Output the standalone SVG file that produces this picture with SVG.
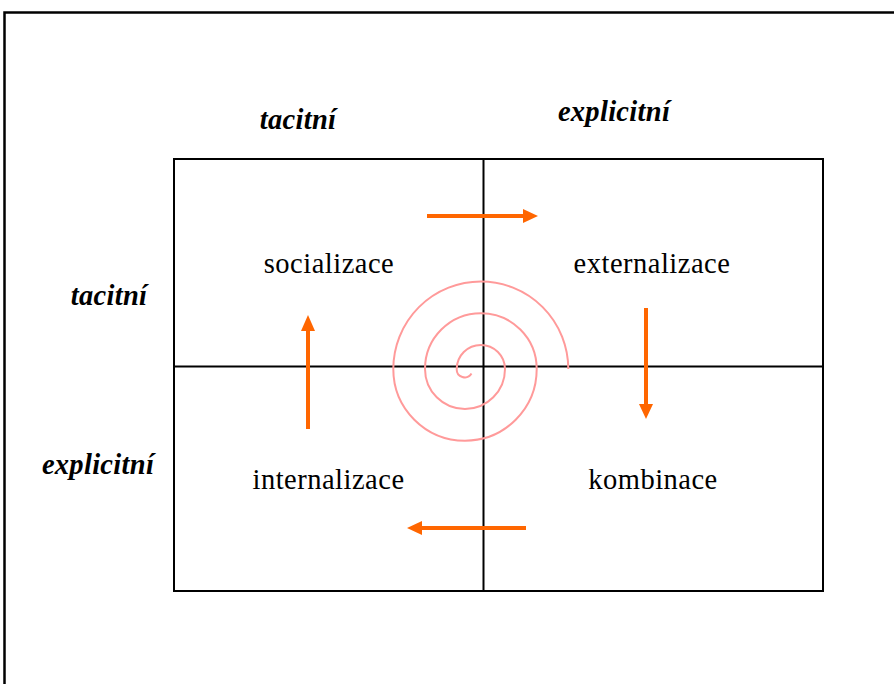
<svg xmlns="http://www.w3.org/2000/svg" width="894" height="684" viewBox="0 0 894 684">
<defs>
<style>
.lbl{font-family:"Liberation Serif","Times New Roman",serif;font-size:28.5px;letter-spacing:0.5px;text-anchor:middle;fill:#000}
.hdr{font-family:"Liberation Serif","Times New Roman",serif;font-size:28.5px;letter-spacing:0.3px;font-weight:bold;font-style:italic;text-anchor:middle;fill:#000}
.grid{fill:none;stroke:#000;stroke-width:2}
.arr{stroke:#ff6600;stroke-width:4;fill:none}
.head{fill:#ff6600}
</style>
</defs>
<rect width="894" height="684" fill="#fff"/>
<rect x="4.5" y="12.5" width="900" height="700" fill="none" stroke="#000" stroke-width="2.5"/>
<g id="grid">
<rect class="grid" x="174" y="159" width="649" height="432"/>
<line class="grid" x1="483.5" y1="159" x2="483.5" y2="591"/>
<line class="grid" x1="174" y1="366.5" x2="823" y2="366.5"/>
</g>
<g id="spiral">
<path d="M471.5,373.5 A8 8 0 0 1 456.7,369 A24.15 24.15 0 0 1 505,369 A40 40 0 0 1 425,369 A55.85 55.85 0 0 1 536.7,369 A71.7 71.7 0 0 1 393.3,369 A87.5 87.5 0 0 1 568.3,369" fill="none" stroke="#ff9a9a" stroke-width="2"/>
</g>
<g id="headers">
<text class="hdr" x="298" y="128.5">tacitní</text>
<text class="hdr" x="614" y="121">explicitní</text>
<text class="hdr" x="109" y="305">tacitní</text>
<text class="hdr" x="98" y="474">explicitní</text>
</g>
<g id="socializace"><text class="lbl" x="329" y="273.3">socializace</text></g>
<g id="externalizace"><text class="lbl" x="652" y="273.3">externalizace</text></g>
<g id="internalizace"><text class="lbl" x="328.5" y="488.5">internalizace</text></g>
<g id="kombinace"><text class="lbl" x="653" y="489">kombinace</text></g>
<g id="connectors">
<line class="arr" x1="427" y1="216" x2="524" y2="216"/>
<polygon class="head" points="523,209 538,216 523,223"/>
<line class="arr" x1="646" y1="308" x2="646" y2="405"/>
<polygon class="head" points="639,404 646,419 653,404"/>
<line class="arr" x1="526" y1="528" x2="421" y2="528"/>
<polygon class="head" points="422,521 407,528 422,535"/>
<line class="arr" x1="308" y1="429" x2="308" y2="330"/>
<polygon class="head" points="301,331 308,315 315,331"/>
</g>
</svg>
